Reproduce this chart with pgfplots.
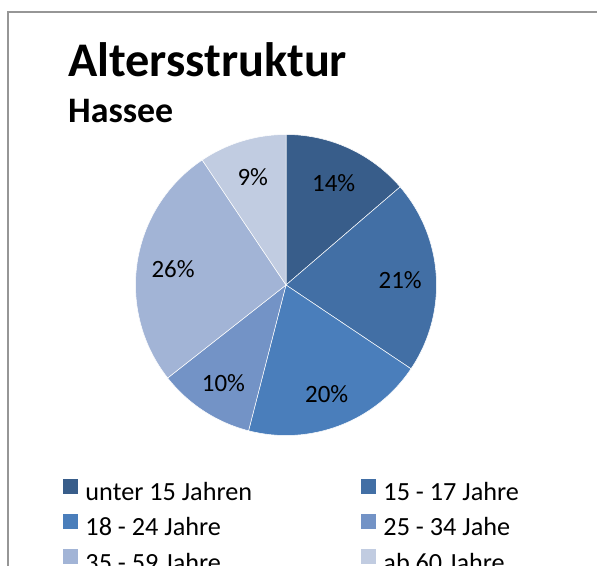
\documentclass[border=0pt]{standalone}
\usepackage{pgfplots}
\pgfplotsset{compat=1.18}
\usepackage{pgfplotstable}
\usepackage{fontspec}
\setmainfont{Carlito}
\definecolor{pie0}{RGB}{56,93,138}
\definecolor{pie1}{RGB}{66,111,165}
\definecolor{pie2}{RGB}{74,126,187}
\definecolor{pie3}{RGB}{115,147,198}
\definecolor{pie4}{RGB}{162,180,214}
\definecolor{pie5}{RGB}{193,204,225}
\definecolor{framegray}{RGB}{150,150,150}
\newcommand\lblfont{\fontsize{25}{30}\selectfont}
\newcommand\legfont{\fontsize{26.3}{30}\selectfont}
\newcommand\LE[1]{\rule{0pt}{15bp}\smash{#1}}
\newcommand\LEA[1]{\makebox[275.5bp][l]{\rule{0pt}{15bp}\smash{#1}}}
\pgfplotstableread{
val lab
13.7 14
20.7 21
19.6 20
10.4 10
26.2 26
9.4 9
}\pietable
\begin{document}
\begin{tikzpicture}
\useasboundingbox (0bp,0bp) rectangle (597bp,566bp);
\clip (0bp,0bp) rectangle (597bp,566bp);
\fill[white] (0bp,0bp) rectangle (597bp,566bp);
\draw[line width=2bp, color=framegray] (8bp,-10bp) -- (8bp,554bp) -- (610bp,554bp);
\node[anchor=base west, inner sep=0pt, font=\bfseries\fontsize{48.5}{52}\selectfont] at (68bp,489.3bp) {Altersstruktur};
\node[anchor=base west, inner sep=0pt, font=\bfseries\fontsize{36}{40}\selectfont] at (68bp,443.7bp) {Hassee};
\begin{axis}[at={(135.5bp,130.5bp)}, anchor=south west,
  x=150.5bp, y=150.5bp, xmin=-1, xmax=1, ymin=-1, ymax=1,
  hide axis, clip=false,
  legend columns=2, legend cell align=left,
  legend image code/.code={\fill[#1, draw=none] (0bp,0bp) rectangle (15bp,15bp);},
  legend style={at={(-0.2409,-0.1445)}, anchor=north west, draw=none, fill=none,
    inner sep=0pt, outer sep=0pt, font=\legfont, nodes={inner sep=0pt},
    row sep=12bp, /tikz/every odd column/.style={column sep=7.5bp}},
]
\def\cum{0}
\pgfplotsforeachungrouped \i in {0,...,5}{%
  \pgfplotstablegetelem{\i}{val}\of\pietable \let\pv=\pgfplotsretval
  \pgfplotstablegetelem{\i}{lab}\of\pietable \let\plab=\pgfplotsretval
  \pgfmathsetmacro\sa{90-3.6*\cum}%
  \pgfmathsetmacro\ea{90-3.6*(\cum+\pv)}%
  \pgfmathsetmacro\ma{(\sa+\ea)/2}%
  \pgfmathsetmacro\cum{\cum+\pv}%
  \edef\temp{\noexpand\fill[pie\i, draw=white, line width=0.5bp] (axis cs:0,0) -- (axis cs:{cos(\sa)},{sin(\sa)}) arc[start angle=\sa, end angle=\ea, radius=150.5bp] -- cycle;
  \noexpand\node[font=\noexpand\lblfont, inner sep=0pt, yshift=-2bp] at (axis cs:{0.76*cos(\ma)},{0.76*sin(\ma)}) {\plab\noexpand\%};}%
  \temp
}
\addlegendimage{fill=pie0}\addlegendentry{\LEA{unter 15 Jahren}}
\addlegendimage{fill=pie1}\addlegendentry{\LE{15 - 17 Jahre}}
\addlegendimage{fill=pie2}\addlegendentry{\LEA{18 - 24 Jahre}}
\addlegendimage{fill=pie3}\addlegendentry{\LE{25 - 34 Jahe}}
\addlegendimage{fill=pie4}\addlegendentry{\LEA{35 - 59 Jahre}}
\addlegendimage{fill=pie5}\addlegendentry{\LE{ab 60 Jahre}}
\end{axis}
\end{tikzpicture}
\end{document}
